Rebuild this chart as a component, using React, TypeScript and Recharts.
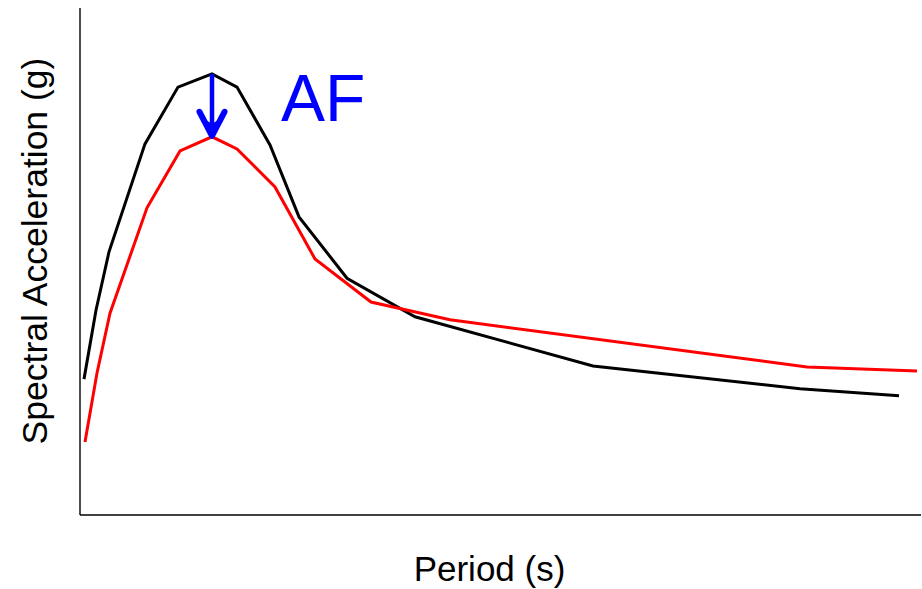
import { LineChart, Line, XAxis, YAxis, ReferenceLine } from "recharts"

// Response spectra: input (black) vs amplified/de-amplified (red)
const blackPeriods = [0.04, 0.16, 0.29, 0.65, 0.98, 1.32, 1.57, 1.9, 2.19, 2.67, 3.35, 5.13, 7.2, 8.19]
const blackSa = [0.268, 0.404, 0.519, 0.732, 0.844, 0.87, 0.844, 0.73, 0.588, 0.467, 0.391, 0.294, 0.249, 0.235]

const redPeriods = [0.05, 0.17, 0.3, 0.67, 1.0, 1.32, 1.57, 1.95, 2.35, 2.91, 3.7, 7.27, 8.37]
const redSa = [0.144, 0.28, 0.398, 0.606, 0.718, 0.746, 0.722, 0.647, 0.505, 0.42, 0.385, 0.292, 0.284]

const FONT = "'Liberation Sans', Arial, sans-serif"
const BLUE = "#0000ff"

const toPoints = (periods: number[], sa: number[]) =>
  periods.map((period, i) => ({ period, sa: sa[i] }))

const black = toPoints(blackPeriods, blackSa)
const red = toPoints(redPeriods, redSa)

// arrow runs from the black peak down to the red peak
const peakOf = (pts: { period: number; sa: number }[]) =>
  pts.reduce((a, b) => (b.sa > a.sa ? b : a))
const topPeak = peakOf(black)
const lowPeak = peakOf(red)

function AfArrow(props: any) {
  const { x1, y1, y2 } = props
  const head = 25
  return (
    <g>
      <line x1={x1} y1={y1} x2={x1} y2={y2 - 4} stroke={BLUE} strokeWidth={4.5} />
      <polyline
        points={`${x1 - 12.5},${y2 - head} ${x1},${y2 - 1} ${x1 + 12.5},${y2 - head}`}
        fill="none"
        stroke={BLUE}
        strokeWidth={6}
        strokeLinejoin="round"
        strokeLinecap="round"
      />
      <polygon
        points={`${x1 - 10},${y2 - 19} ${x1},${y2 - 2} ${x1 + 10},${y2 - 19} ${x1},${y2 - 13}`}
        fill={BLUE}
      />
      <text x={x1 + 69} y={y1 + 47} fill={BLUE} fontSize={66} fontFamily={FONT}>
        AF
      </text>
    </g>
  )
}

export default function App() {
  return (
    <div style={{ position: "absolute", left: 0, top: 0 }}>
      <LineChart width={922} height={589} margin={{ top: 8, right: 1, bottom: 34, left: 20 }}>
        <XAxis
          dataKey="period"
          type="number"
          domain={[0, 8.41]}
          allowDataOverflow
          tick={false}
          tickLine={false}
          height={40}
          axisLine={{ stroke: "#000", strokeWidth: 1.4 }}
          label={{
            content: ({ viewBox }: any) => (
              <text
                x={viewBox.x + viewBox.width / 2 - 11}
                y={581}
                textAnchor="middle"
                fontSize={35}
                fontFamily={FONT}
                fill="#000"
              >
                Period (s)
              </text>
            )
          }}
        />
        <YAxis
          dataKey="sa"
          type="number"
          domain={[0, 1]}
          allowDataOverflow
          tick={false}
          tickLine={false}
          width={60}
          axisLine={{ stroke: "#000", strokeWidth: 1.4 }}
          label={{
            content: () => (
              <text
                x={47}
                y={251}
                transform="rotate(-90, 47, 251)"
                textAnchor="middle"
                fontSize={35.5}
                fontFamily={FONT}
                fill="#000"
              >
                Spectral Acceleration (g)
              </text>
            )
          }}
        />
        <Line
          data={black}
          dataKey="sa"
          stroke="#000"
          strokeWidth={3}
          dot={false}
          isAnimationActive={false}
        />
        <Line
          data={red}
          dataKey="sa"
          stroke="#ff0000"
          strokeWidth={3}
          dot={false}
          isAnimationActive={false}
        />
        <ReferenceLine
          segment={[
            { x: topPeak.period, y: topPeak.sa },
            { x: lowPeak.period, y: lowPeak.sa }
          ]}
          shape={AfArrow}
        />
      </LineChart>
    </div>
  )
}
